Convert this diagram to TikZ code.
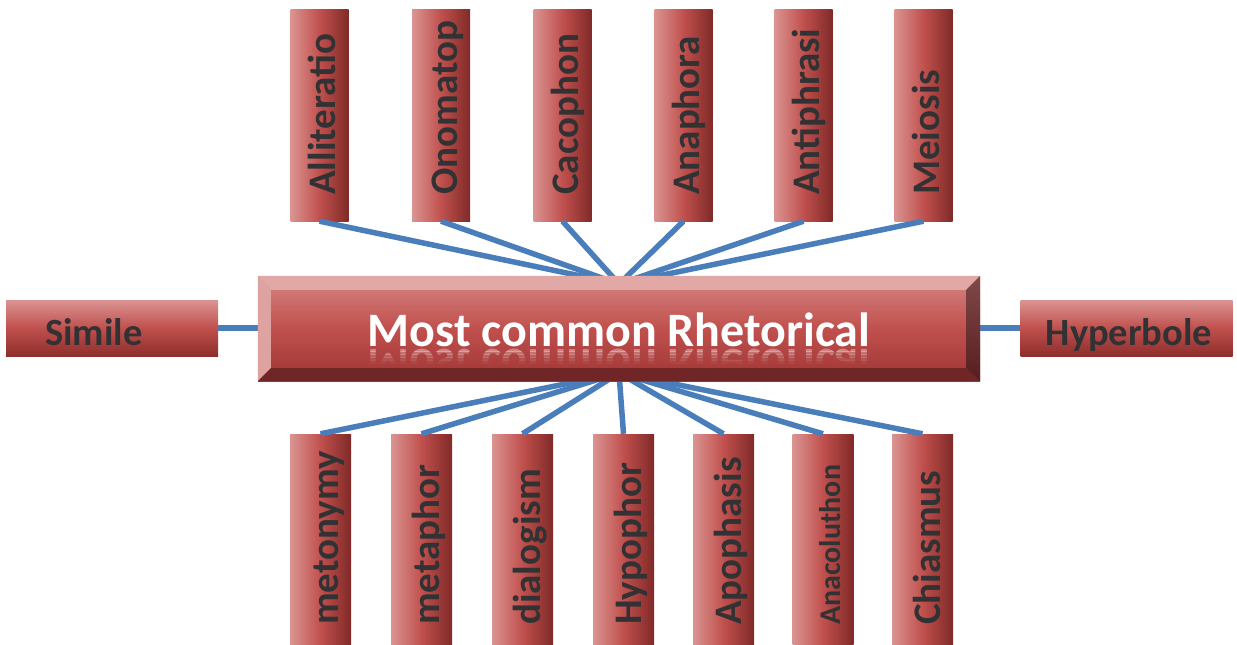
\documentclass[tikz,border=0pt]{standalone}
\usepackage{fontspec}
\setmainfont{Carlito}
\usetikzlibrary{calc}

\definecolor{boxlight}{RGB}{218,148,146}
\definecolor{boxmid}{RGB}{192,80,77}
\definecolor{boxdark}{RGB}{128,42,40}
\definecolor{boxdeep}{RGB}{142,46,44}
\definecolor{linkblue}{RGB}{74,126,187}
\definecolor{labelgray}{RGB}{50,50,52}
\definecolor{facetop}{RGB}{214,134,132}
\definecolor{facebot}{RGB}{158,54,52}
\definecolor{bevtop}{RGB}{226,168,166}
\definecolor{bevleft}{RGB}{222,162,160}
\definecolor{bevbot}{RGB}{112,38,38}
\definecolor{bevrtop}{RGB}{128,72,72}
\definecolor{bevrbot}{RGB}{86,30,30}

\begin{document}
\begin{tikzpicture}[x=1pt,y=-1pt,
  vbox/.style n args={3}{inner sep=0pt, minimum width=58pt, minimum height=212pt,
    left color=boxlight, right color=boxdark, middle color=boxmid,
    path picture={\node[rotate=90, anchor=base west, inner sep=0pt,
      minimum width=0pt, minimum height=0pt, text=labelgray,
      font=\bfseries\fontsize{#3}{#3}\selectfont]
      at ([xshift=-13pt,yshift=#2]path picture bounding box.south east) {#1};}},
  hbox/.style n args={2}{inner sep=0pt, minimum width=212pt, minimum height=56pt,
    top color=boxlight, bottom color=boxdeep, middle color=boxmid,
    path picture={\node[anchor=base west, inner sep=0pt,
      minimum width=0pt, minimum height=0pt, text=labelgray,
      font=\bfseries\fontsize{38.5}{38.5}\selectfont]
      at ([xshift=#2,yshift=11pt]path picture bounding box.south west) {#1};}},
  mainbox/.style={inner sep=0pt, minimum width=722pt, minimum height=105pt,
    top color=facetop, bottom color=facebot, middle color=boxmid},
  headline/.style={anchor=base, inner sep=0pt, text=white,
    font=\bfseries\fontsize{48}{48}\selectfont},
  link/.style={draw=linkblue, line width=5.5pt}]

\useasboundingbox (0,0) rectangle (1237,645);

% upper row
\foreach \name/\x/\lab in {allit/319.5/Alliteratio, onom/441/Onomatop, caco/562.5/Cacophon,
  anaph/683.5/Anaphora, antiph/803.5/Antiphrasi, meio/923.5/Meiosis}
  \node[vbox={\lab}{26pt}{39}] (\name) at (\x,115) {};

% lower row
\foreach \name/\x/\lab/\sz in {meto/320.5/metonymy/39, meta/421.5/metaphor/39, dial/522.5/dialogism/39,
  hypo/623.5/Hypophor/39, apoph/723.5/Apophasis/39, anac/823/Anacoluthon/30, chia/922.5/Chiasmus/39}
  \node[vbox={\lab}{21pt}{\sz}, minimum width=61pt] (\name) at (\x,540) {};

% side boxes
\node[hbox={Simile}{39pt}] (simile) at (112,328) {};
\node[hbox={Hyperbole}{25pt}] (hyper) at (1126.5,328) {};

\coordinate (hubtop) at (619,284);
\coordinate (hubbot) at (619,373);

\foreach \name in {allit,onom,caco,anaph,antiph,meio}
  \draw[link] (\name.south) -- (hubtop);
\foreach \name in {meto,meta,dial,hypo,apoph,anac,chia}
  \draw[link] (\name.north) -- (hubbot);
\draw[link] (simile.east) -- (hyper.west);

% centre box with bevel
\node[mainbox] (main) at (619,328.5) {};
\coordinate (inw) at ($(main.north west)+(13,14)$);
\coordinate (ine) at ($(main.north east)+(-14,14)$);
\coordinate (ise) at ($(main.south east)+(-14,-13)$);
\coordinate (isw) at ($(main.south west)+(13,-13)$);
\fill[bevtop] (main.north west) -- (main.north east) -- (ine) -- (inw) -- cycle;
\fill[bevleft] (main.north west) -- (inw) -- (isw) -- (main.south west) -- cycle;
\fill[bevbot] (main.south west) -- (isw) -- (ise) -- (main.south east) -- cycle;
\shade[top color=bevrtop, bottom color=bevrbot] (main.north east) -- (main.south east) -- (ise) -- (ine) -- cycle;

\node[headline] (title) at (619,346) {Most common Rhetorical};
% faded reflection under the title
\foreach \ya/\op [count=\i] in {348/0.35, 351/0.25, 354/0.16, 357/0.09, 360/0.04}{
  \begin{scope}
    \clip (300,\ya) rectangle (940,\ya+3);
    \node[headline, yscale=-1, opacity=\op] (echo\i) at (619,349) {Most common Rhetorical};
  \end{scope}}
\end{tikzpicture}
\end{document}
